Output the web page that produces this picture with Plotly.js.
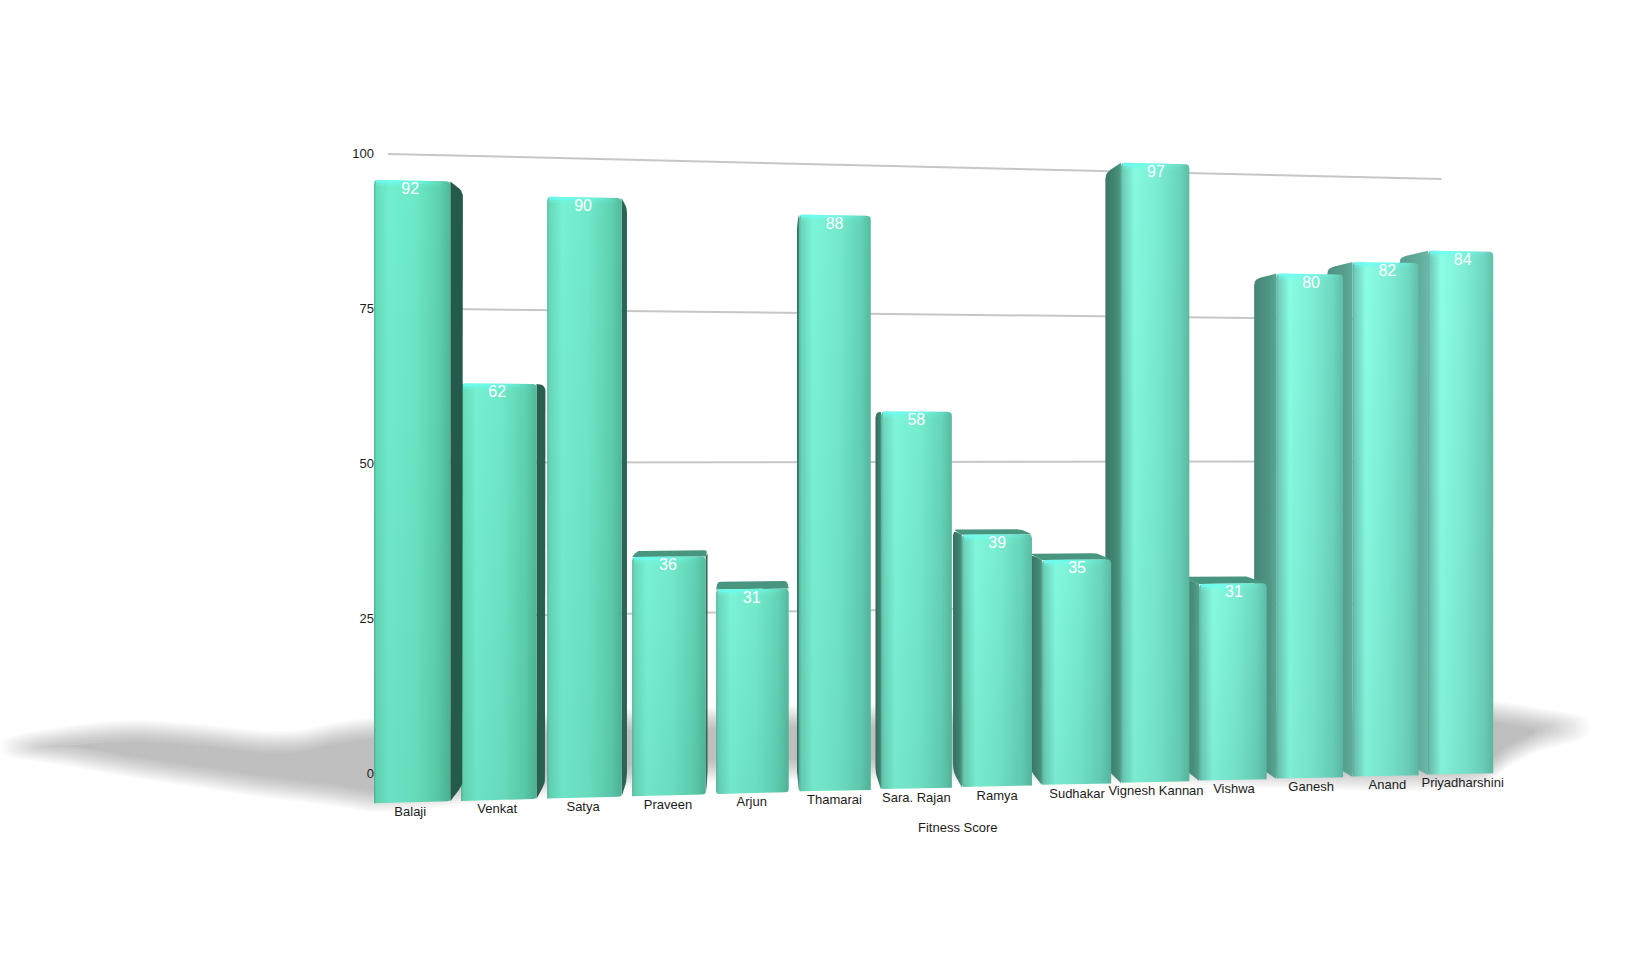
<!DOCTYPE html>
<html><head><meta charset="utf-8">
<script src="https://cdn.plot.ly/plotly-3.0.1.min.js"></script>
<style>html,body{margin:0;padding:0;background:#fff;overflow:hidden}#c{width:1640px;height:955px}</style>
</head><body><div id="c"></div>
<script>
const categories = ["Balaji","Venkat","Satya","Praveen","Arjun","Thamarai","Sara. Rajan","Ramya","Sudhakar","Vignesh Kannan","Vishwa","Ganesh","Anand","Priyadharshini"];
const fitnessScores = [92,62,90,36,31,88,58,39,35,97,31,80,82,84];
const valueTicks = [0,25,50,75,100];
const axisTitle = "Fitness Score";

// perspective camera (screen pixels)
const W=1640,H=955, Y0=773, UNIT=6.2;
const toV = py => (Y0-py)/UNIT;
const sx = u => (374+90.01*u)/(1+0.006258*u);
const sy = (u,v) => (803.3+2.93*u-6.776*v)/(1+0.0066*u);
const VX=750,VY=410,DEPTH=0.042,WALL=0.09,FACE=0.875;
const back = (p,k=DEPTH,vy=VY)=>[p[0]+k*(VX-p[0]),p[1]+k*(vy-p[1])];

function hex(c){return [1,3,5].map(i=>parseInt(c.substr(i,2),16));}
function mix(a,b,t){t=Math.min(1,t);const A=hex(a),B=hex(b);return 'rgb('+A.map((x,i)=>Math.round(x+(B[i]-x)*t)).join(',')+')';}

function poly(pts,scale,type){
  const c=pts.concat([pts[0]]);
  return {type:'scatter',mode:'lines',x:c.map(p=>p[0]),y:c.map(p=>toV(p[1])),
    fill:'toself',line:{width:0},hoverinfo:'skip',showlegend:false,
    fillgradient:{type:type||'horizontal',colorscale:scale}};
}
function flat(c){return [[0,c],[1,c]];}
// corner rounding: quadrilateral a(tl) b(tr) c(br) d(bl) with radii
function rounded(q,r){
  const out=[];
  for(let i=0;i<4;i++){
    const p=q[i],a=q[(i+3)%4],b=q[(i+1)%4],R=r[i];
    if(!R){out.push(p);continue;}
    const la=Math.hypot(a[0]-p[0],a[1]-p[1]),lb=Math.hypot(b[0]-p[0],b[1]-p[1]);
    const A=[p[0]+(a[0]-p[0])*R/la,p[1]+(a[1]-p[1])*R/la],B=[p[0]+(b[0]-p[0])*R/lb,p[1]+(b[1]-p[1])*R/lb];
    for(let s=0;s<=5;s++){const t=s/5;out.push([(1-t)*(1-t)*A[0]+2*t*(1-t)*p[0]+t*t*B[0],(1-t)*(1-t)*A[1]+2*t*(1-t)*p[1]+t*t*B[1]]);}
  }
  return out;
}

const traces=[];
// floor shadow outline (pixels): [x, upper edge, lower edge]
const shadowOutline=[[30,745,749],[67,737,755],[133,731,767],[200,735,777],[267,742,787],[300,741,791],[333,734,795],[375,728,801],
  [700,718,772],[1100,712,772],[1480,710,775],[1510,714,755],[1535,718,742],[1560,724,731]];
const LAYERS=18;
for(let k=0;k<LAYERS;k++){
  const d=-11+22*k/(LAYERS-1);
  const top=[],bot=[];
  shadowOutline.forEach((s,j)=>{
    const tip=(j===0)?d*2.5:(j===shadowOutline.length-1?d*-2.5:0);
    // blur narrows towards the far tips
    const f=(j===0||j===shadowOutline.length-1)?0.4:1;
    let a=s[1]+d*f,b=s[2]-d*f;
    if(a>b){a=b=(s[1]+s[2])/2;}
    top.push([s[0]+tip,a]);bot.unshift([s[0]+tip,b]);
  });
  const tr=poly(top.concat(bot),flat('rgba(0,0,0,0.0168)'));
  tr.line={width:0,shape:'spline',smoothing:0.8};
  traces.push(tr);
}
// gridlines on the back wall
valueTicks.slice(1).forEach(v=>{
  const a=back([sx(-0.25),sy(-0.25,v)],WALL,445),b=back([sx(14.1),sy(14.1,v)],WALL,445);
  traces.push({type:'scatter',mode:'lines',x:[a[0],b[0]],y:[toV(a[1]),toV(b[1])],line:{color:'#c6c6c6',width:2},hoverinfo:'skip',showlegend:false});
});

// bars, far to near
for(let i=categories.length-1;i>=0;i--){
  const v=fitnessScores[i],t=i/(categories.length-1),t4=t*t*t*t;
  const uL=i,uR=i+FACE;
  const tl=[sx(uL),sy(uL,v)],tr=[sx(uR),sy(uR,v)],br=[sx(uR),sy(uR,0)],bl=[sx(uL),sy(uL,0)];
  const btl=back(tl),btr=back(tr),bbr=back(br),bbl=back(bl);
  // side wall
  if(tl[0]>VX){
    traces.push(poly(rounded([btl,tl,bl,bbl],[6,0,0,7]),
      [[0,mix('#2f6a5a','#5a9f90',t4)],[0.7,mix('#3c7f6c','#62ab9b',t4)],[1,mix('#479582','#6ab8a8',t4)]]));
  } else if(tr[0]<VX){
    traces.push(poly(rounded([tr,btr,bbr,br],[0,6,7,0]),flat(mix('#245a4c','#3a7d6b',t*2))));
  }
  // top wall
  if(btl[1]<tl[1]) traces.push(poly(rounded([btl,btr,tr,tl],[3,3,0,0]),flat('#48967f')));
  // front face
  const scale=[[0,mix('#4fb798','#5fae9c',t)],[0.03,mix('#66dcba','#6fc9b6',t)],
    [0.2,mix('#72efce','#8cffe6',t)],[0.55,mix('#6ce8c6','#80eed6',t)],
    [0.85,mix('#5dd2b0','#70d8c2',t)],[1,mix('#4fb899','#62bfab',t)]];
  traces.push(poly(rounded([tl,tr,br,bl],[4,4,tl[0]>VX?0:3,tr[0]<VX?0:3]),scale));
  // vertical darkening towards the floor
  traces.push(poly(rounded([tl,tr,br,bl],[4,4,tl[0]>VX?0:3,tr[0]<VX?0:3]),[[0,'rgba(0,40,30,0.07)'],[1,'rgba(0,40,30,0)']],'vertical'));
  // bevel at top
  const bev=h=>[[tl[0]+2,tl[1]],[tr[0]-2,tr[1]],[tr[0]-2,tr[1]+h],[tl[0]+2,tl[1]+h]];
  const cy='rgba(105,255,245,';
  traces.push(poly(bev(3),[[0,cy+'0.75)'],[0.5,cy+'0.45)'],[1,cy+'0)']]));
  traces.push(poly(bev(6),[[0,cy+'0.3)'],[0.5,cy+'0.2)'],[1,cy+'0)']]));
}

// data labels and category labels placed with the bars
const mids=categories.map((c,i)=>i+FACE/2);
const labelX=mids.map((u,i)=>sx(u)+(i/(categories.length-1)-0.5)*4);
traces.push({type:'scatter',mode:'text',x:labelX,
  y:mids.map((u,i)=>toV(sy(u,fitnessScores[i])+9.5)),text:fitnessScores.map(String),
  textposition:'middle center',textfont:{family:'Liberation Sans, Arial, sans-serif',size:16,color:'#ffffff'},hoverinfo:'skip',showlegend:false});
traces.push({type:'scatter',mode:'text',x:labelX,
  y:mids.map(u=>toV(sy(u,0)+10)),text:categories,
  textposition:'middle center',textfont:{family:'Liberation Sans, Arial, sans-serif',size:13,color:'#1c1c1c'},hoverinfo:'skip',showlegend:false});

const layout={width:W,height:H,margin:{l:0,r:0,t:0,b:0},paper_bgcolor:'#fff',plot_bgcolor:'rgba(0,0,0,0)',showlegend:false,
  xaxis:{range:[0,W],visible:false,fixedrange:true},
  yaxis:{range:[toV(H),toV(0)],anchor:'free',position:374/W,tickmode:'array',tickvals:valueTicks,ticktext:valueTicks.map(String),
    showgrid:false,zeroline:false,showline:false,ticks:'',fixedrange:true,layer:'above traces',
    tickfont:{family:'Liberation Sans, Arial, sans-serif',size:13,color:'#1c1c1c'}},
  annotations:[{xref:'x',yref:'y',x:957,y:toV(827),text:axisTitle,showarrow:false,
    font:{family:'Liberation Sans, Arial, sans-serif',size:13,color:'#1c1c1c'}}]};
Plotly.newPlot('c',traces,layout,{displayModeBar:false,staticPlot:true});
</script></body></html>
